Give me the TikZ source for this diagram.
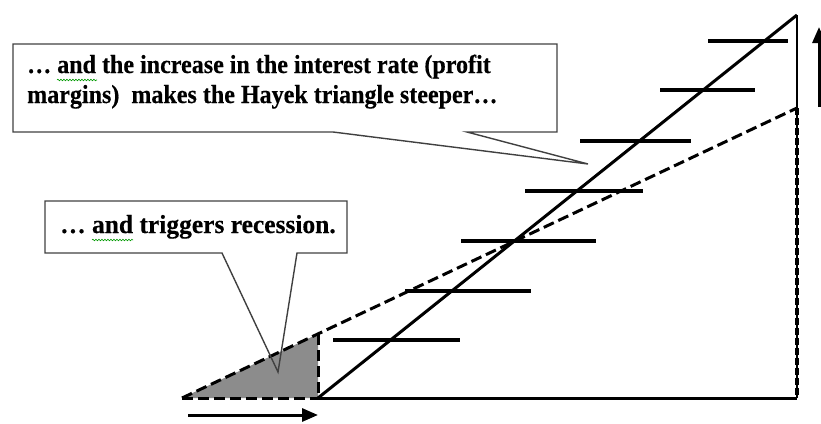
\documentclass[tikz,border=0pt]{standalone}
\usepackage{fontspec}
\newfontfamily\tnrA[FakeBold=0.4,FakeStretch=0.925]{Liberation Serif}
\newfontfamily\tnrB[FakeBold=0.4,FakeStretch=0.98]{Liberation Serif}
\usetikzlibrary{arrows.meta,decorations.pathmorphing}
\begin{document}
\begin{tikzpicture}[x=1pt,y=-1pt,
  mainline/.style={line width=3pt,black,line cap=butt},
  dashline/.style={line width=3pt,black,dash pattern=on 11pt off 5pt},
  bar/.style={line width=3.4pt,black},
  callout/.style={draw=black!75,line width=1.4pt,line join=miter},
  txtA/.style={font=\tnrA\bfseries\fontsize{26}{29}\selectfont,anchor=base west,inner sep=0pt,text=black},
  txtB/.style={font=\tnrB\bfseries\fontsize{26}{29}\selectfont,anchor=base west,inner sep=0pt,text=black},
  squiggle/.style={draw=green!60!black,line width=0.6pt,decorate,decoration={snake,amplitude=0.8pt,segment length=3pt}},
  arr/.style={line width=3pt,black,-{Triangle[length=16pt,width=13pt]}}]
\useasboundingbox (0,0) rectangle (821,423);
\clip (0,0) rectangle (821,423);
% key points
\coordinate (O) at (318,398);
\coordinate (T) at (797,15);
\coordinate (BR) at (797,398);
\coordinate (D0) at (182,398);
\coordinate (D1) at (797,108);
\coordinate (S) at (318,334);
% shaded triangle
\fill[black!45] (D0) -- (S) -- (O) -- cycle;
% dashed lines
\draw[dashline] (D0) -- (D1);
\draw[dashline] (S) -- (O);
\draw[dashline] (D0) -- (O);
% solid triangle
\draw[mainline] (O) -- (T);
\draw[mainline] (O) -- (BR);
\draw[mainline,line width=2.4pt] (T) -- (BR);
\draw[dashline,line width=3.2pt,dash pattern=on 7pt off 3pt] (D1) -- (BR);
% bars
\foreach \y/\a/\b in {41/708/788, 90/660/755, 141/580/691, 191/525/643, 241/461/596, 291/405/531, 340/333/460}{
  \coordinate (bl) at (\a,\y);
  \coordinate (br) at (\b,\y);
  \draw[bar] (bl) -- (br);
}
% arrows
\coordinate (A1) at (188,415);
\coordinate (A2) at (318,415);
\draw[arr] (A1) -- (A2);
\coordinate (U1) at (819,107);
\coordinate (U2) at (819,27);
\draw[arr] (U1) -- (U2);
% callout 1
\coordinate (c1a) at (13,44);
\coordinate (c1b) at (557,44);
\coordinate (c1c) at (557,132);
\coordinate (c1d) at (467,132);
\coordinate (c1tip) at (588,164);
\coordinate (c1e) at (333,132);
\coordinate (c1f) at (13,132);
\draw[callout] (c1a) -- (c1b) -- (c1c) -- (c1d) -- (c1tip) -- (c1e) -- (c1f) -- cycle;
\node[txtA] (t1a) at (27,73) {… and the increase in the interest rate (profit};
\node[txtA] (t1b) at (27,103) {margins)~ makes the Hayek triangle steeper…};
\draw[squiggle] (57,80) -- (97,80);
% callout 2
\coordinate (c2a) at (45,201);
\coordinate (c2b) at (347,201);
\coordinate (c2c) at (347,253);
\coordinate (c2d) at (297,253);
\coordinate (c2tip) at (278,372);
\coordinate (c2e) at (222,253);
\coordinate (c2f) at (45,253);
\draw[callout] (c2a) -- (c2b) -- (c2c) -- (c2d) -- (c2tip) -- (c2e) -- (c2f) -- cycle;
\node[txtB] (t2) at (60,233) {… and triggers recession.};
\draw[squiggle] (92,240) -- (133,240);
\end{tikzpicture}
\end{document}
